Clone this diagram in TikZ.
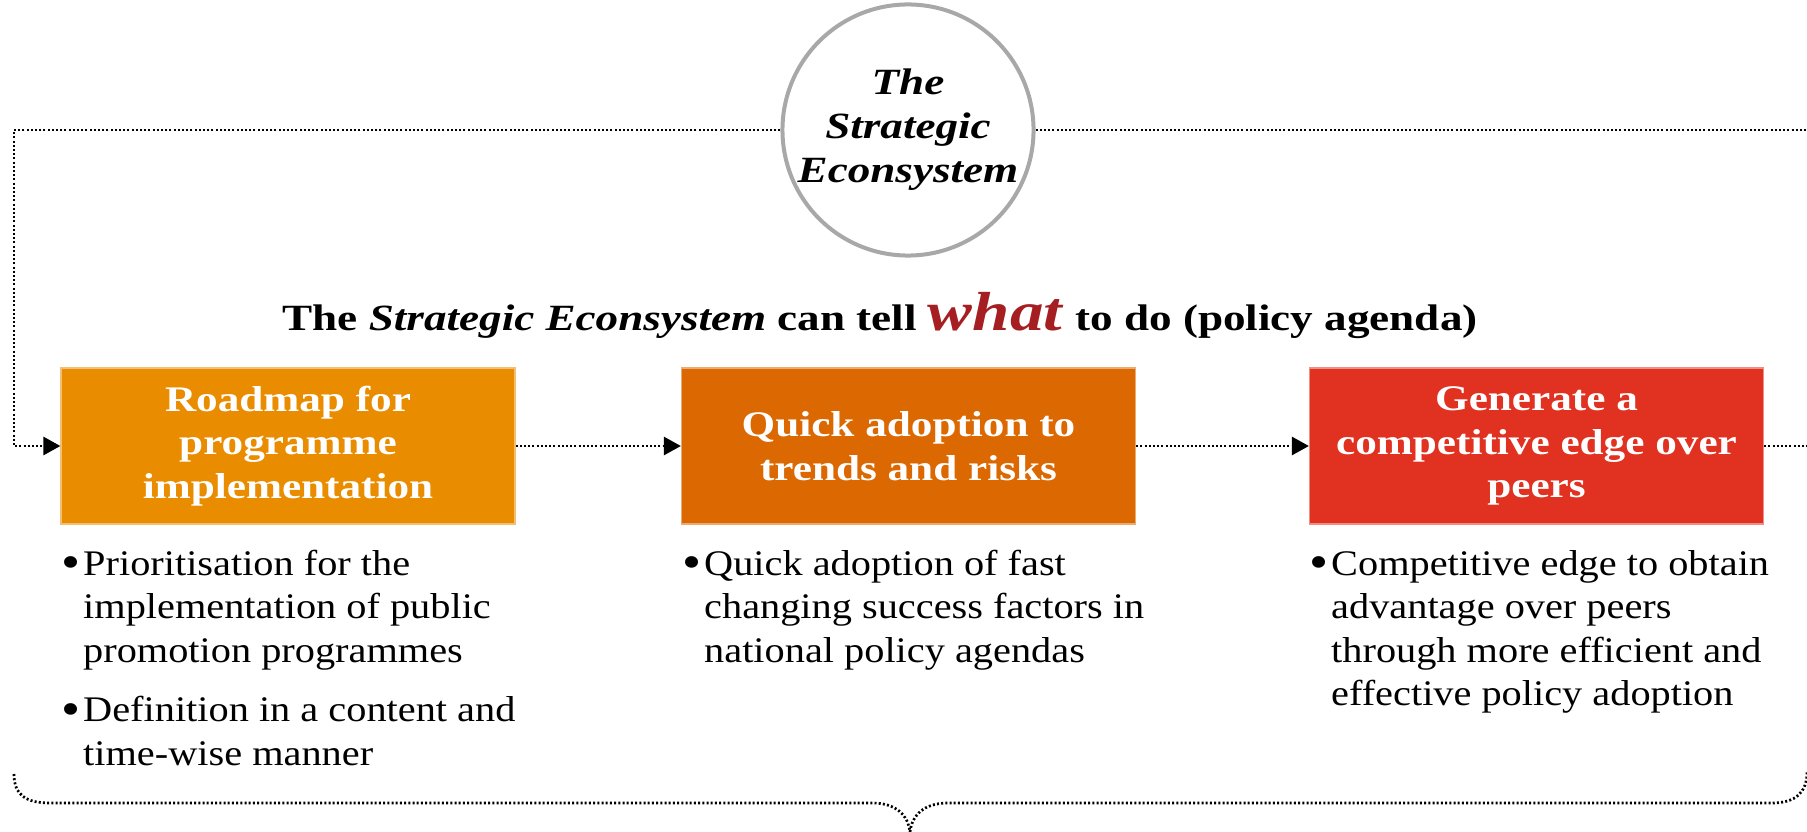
\documentclass[tikz,border=0pt]{standalone}
\usepackage{fontspec}
\usepackage{graphicx}
\setmainfont{Liberation Serif}[FakeStretch=1.12]
\newfontfamily\boxfont{Liberation Serif}[FakeStretch=1.2]
\newfontfamily\headfont{Liberation Serif}[FakeStretch=1.22]
\usetikzlibrary{arrows.meta,calc}

\definecolor{boxA}{RGB}{234,140,0}
\definecolor{boxB}{RGB}{219,104,0}
\definecolor{boxC}{RGB}{224,49,33}
\definecolor{whatred}{RGB}{165,30,34}
\definecolor{ringgray}{RGB}{168,168,168}

\newcommand{\bulletmark}{\makebox[22pt][l]{\raisebox{-0.11em}{\scalebox{1.35}{\textbullet}}}}
\newcommand{\bulletskip}{\hspace*{22pt}}

\tikzset{
  dotline/.style={line width=2.7pt, dash pattern=on 2pt off 2.2pt},
  headarrow/.style={-{Triangle[length=17pt,width=18pt]}},
  stepbox/.style={rectangle, minimum width=454pt, minimum height=156pt,
    inner sep=0pt, text=white, align=center, line width=1.2pt,
    font=\boxfont\fontsize{36}{43.5}\selectfont\bfseries},
  bullets/.style={anchor=base west, inner sep=0pt, align=left,
    font=\fontsize{36}{43.5}\selectfont},
}

\begin{document}
\begin{tikzpicture}[x=1pt,y=-1pt]
\useasboundingbox (0,0) rectangle (1807,832);

% central ring
\node[circle, draw=ringgray, line width=4pt, minimum size=248pt, inner sep=0pt,
      align=center, font=\headfont\fontsize{37}{44}\selectfont\bfseries\itshape]
  (eco) at (908,130) {The\\Strategic\\Econsystem};

% headline
\node[anchor=base, inner sep=0pt, font=\headfont\fontsize{37}{43}\selectfont\bfseries]
  (headline) at (880,330)
  {The \textit{Strategic Econsystem} can tell
   \textcolor{whatred}{\fontsize{55}{60}\selectfont\textit{what}} to do (policy agenda)};

% the three steps
\node[stepbox, fill=boxA, draw=boxA!55!white] (b1) at (288,446)
  {Roadmap for\\programme\\implementation};
\node[stepbox, fill=boxB, draw=boxB!55!white] (b2) at (908.5,446)
  {Quick adoption to\\trends and risks};
\node[stepbox, fill=boxC, draw=boxC!55!white] (b3) at (1536.5,446)
  {Generate a\\competitive edge over\\peers};

% bullet texts (anchored at the baseline of their last line)
\node[bullets] (t1) at (61,765)
  {\bulletmark Prioritisation for the\\
   \bulletskip implementation of public\\
   \bulletskip promotion programmes\\[16pt]
   \bulletmark Definition in a content and\\
   \bulletskip time-wise manner};
\node[bullets] (t2) at (682,662)
  {\bulletmark Quick adoption of fast\\
   \bulletskip changing success factors in\\
   \bulletskip national policy agendas};
\node[bullets] (t3) at (1309,705.5)
  {\bulletmark Competitive edge to obtain\\
   \bulletskip advantage over peers\\
   \bulletskip through more efficient and\\
   \bulletskip effective policy adoption};

% loop connectors
\coordinate (loopR) at (1807,130);
\coordinate (loopL) at (14,446);
\coordinate (exitR) at (1807,446);
\draw[dotline] (eco.east) -- (loopR);
\draw[dotline, headarrow] (eco.west) -| (loopL) -- (b1.west);
\draw[dotline, headarrow] (b1.east) -- (b2.west);
\draw[dotline, headarrow] (b2.east) -- (b3.west);
\draw[dotline] (b3.east) -- (exitR);

% brace under the columns
\coordinate (braceL) at (14,774);
\coordinate (braceTip) at (910,832);
\coordinate (braceR) at (1807,772);
\draw[dotline] (braceL) .. controls (14,795) and (26,803) .. (50,803)
  -- (872,803) .. controls (896,803) and (908,815) .. (braceTip);
\draw[dotline] (braceTip) .. controls (912,815) and (924,803) .. (948,803)
  -- (1772,803) .. controls (1796,803) and (1807,792) .. (braceR);
\end{tikzpicture}
\end{document}
